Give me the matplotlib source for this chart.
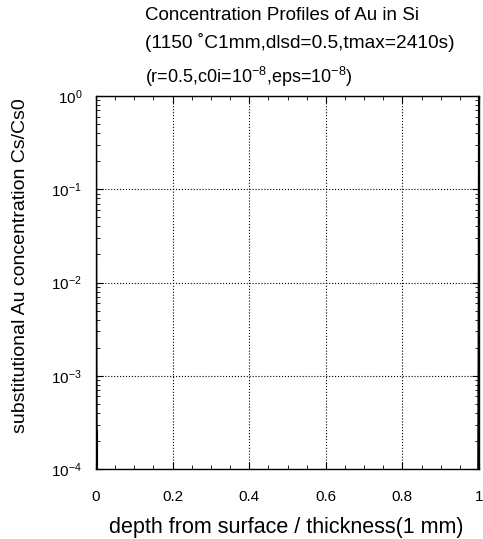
import matplotlib
matplotlib.use("Agg")
import matplotlib.pyplot as plt
from matplotlib.ticker import MultipleLocator, LogLocator, NullFormatter, FixedLocator

plt.rcParams['font.family'] = ['Liberation Sans', 'DejaVu Sans']
plt.rcParams['mathtext.fontset'] = 'custom'
plt.rcParams['mathtext.rm'] = 'Liberation Sans'
plt.rcParams['mathtext.it'] = 'Liberation Sans'
plt.rcParams['mathtext.default'] = 'regular'

# profiles (very steep near both surfaces)
left_x = [0.0, 0.0005, 0.001, 0.0015, 0.002]
left_y = [1.0, 3e-2, 2e-3, 4e-4, 1e-4]
left2_x = [0.0035, 0.0035]
left2_y = [2.6e-4, 1e-4]
right_x = [1.0, 0.9995, 0.999, 0.9985, 0.998]
right_y = [1.0, 3e-2, 2e-3, 4e-4, 1e-4]
right2_x = [0.9965, 0.9965]
right2_y = [9e-4, 1e-4]

xticks = [0, 0.2, 0.4, 0.6, 0.8, 1]
xticklabels = ['0', '0.2', '0.4', '0.6', '0.8', '1']
yticks = [1e-4, 1e-3, 1e-2, 1e-1, 1e0]
yticklabels = ['$10^{-4}$', '$10^{-3}$', '$10^{-2}$', '$10^{-1}$', '$10^{0}$']

fig = plt.figure(figsize=(4.83, 5.39), dpi=100)
ax = fig.add_axes([96/483, 1-469/539, (479-96)/483, (469-96)/539])

ax.plot(left_x, left_y, color='black', lw=1.5)
ax.plot(left2_x, left2_y, color='black', lw=0.8)
ax.plot(right_x, right_y, color='black', lw=1.5)
ax.plot(right2_x, right2_y, color='black', lw=0.8)

ax.set_yscale('log')
ax.set_xlim(0, 1)
ax.set_ylim(1e-4, 1)
ax.xaxis.set_major_locator(FixedLocator(xticks))
ax.set_xticklabels(xticklabels)
ax.xaxis.set_minor_locator(MultipleLocator(0.05))
ax.yaxis.set_major_locator(FixedLocator(yticks))
ax.set_yticklabels(yticklabels)
ax.yaxis.set_minor_locator(LogLocator(base=10, subs=range(2, 10)))
ax.yaxis.set_minor_formatter(NullFormatter())
ax.tick_params(which='both', direction='in', top=True, right=True, labelsize=11)
ax.tick_params(axis='x', which='major', length=5, pad=15)
ax.tick_params(axis='y', which='major', length=5, pad=10)
ax.tick_params(which='minor', length=3)
ax.grid(True, which='major', linestyle=':', color='black', lw=0.8)
for s in ax.spines.values():
    s.set_linewidth(1.0)

fig.text(286/483, 1-528/539, 'depth from surface / thickness(1 mm)', fontsize=15.5,
         ha='center', va='center')
fig.text(21/483, 1-266/539, 'substitutional Au concentration Cs/Cs0', fontsize=14,
         ha='center', va='center', rotation=90)

fig.text(145/483, 1-15/539, 'Concentration Profiles of Au in Si', fontsize=13.5, va='center', ha='left')
fig.text(145/483, 1-42/539, '(1150 \u02daC1mm,dlsd=0.5,tmax=2410s)', fontsize=13.8, va='center', ha='left')
fig.text(145/483, 1-77/539, '(r=0.5,c0i=$10^{-8}$,eps=$10^{-8}$)', fontsize=13, va='center', ha='left')

fig.savefig('out.png', dpi=100)
